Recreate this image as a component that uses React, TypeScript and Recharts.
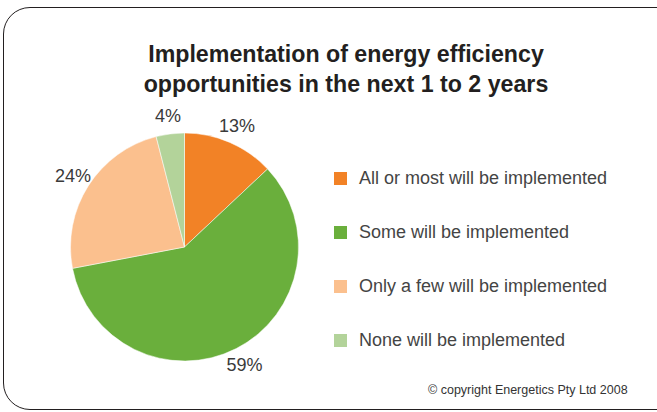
import { PieChart, Pie, Cell, Legend } from 'recharts';

const categories = [
  'All or most will be implemented',
  'Some will be implemented',
  'Only a few will be implemented',
  'None will be implemented',
];
const shares = [13, 59, 24, 4];
const colors = ['#F28226', '#6AAF3C', '#FBC08E', '#B3D39A'];

const data = categories.map((name, i) => ({ name, value: shares[i] }));

const RADIAN = Math.PI / 180;

function renderLabel(props: any) {
  const { cx, cy, midAngle, outerRadius, value } = props;
  const r = outerRadius + 18;
  const x = cx + r * Math.cos(-midAngle * RADIAN);
  const y = cy + r * Math.sin(-midAngle * RADIAN);
  return (
    <text x={x} y={y} textAnchor="middle" dominantBaseline="central" fill="#3a3a3a" fontSize={18} fontFamily="'Liberation Sans', Arial, sans-serif">
      {`${value}%`}
    </text>
  );
}

function renderLegend() {
  return (
    <div style={{ fontFamily: "'Liberation Sans', Arial, sans-serif" }}>
      {categories.map((c, i) => (
        <div key={c} style={{ display: 'flex', alignItems: 'center', height: 54.2 }}>
          <span style={{ width: 13, height: 13, background: colors[i], display: 'inline-block', marginRight: 12 }} />
          <span style={{ fontSize: 18, color: '#444' }}>{c}</span>
        </div>
      ))}
    </div>
  );
}

export default function App() {
  return (
    <div style={{ position: 'fixed', left: 0, top: 0, width: 657, height: 412, overflow: 'hidden', background: '#fff' }}>
      <div
        style={{
          position: 'absolute', left: 3, top: 7, width: 720, height: 403,
          border: '1.5px solid #231f20', borderRadius: 27, boxSizing: 'border-box',
        }}
      />
      <div
        style={{
          position: 'absolute', left: 96, top: 39, width: 500, textAlign: 'center',
          fontFamily: "'Liberation Sans', Arial, sans-serif", fontWeight: 'bold', fontSize: 23.2,
          lineHeight: '30px', color: '#231f20',
        }}
      >
        Implementation of energy efficiency
        <br />
        opportunities in the next 1 to 2 years
      </div>
      <div style={{ position: 'absolute', left: 0, top: 0 }}>
        <PieChart width={657} height={412} margin={{ top: 0, right: 0, bottom: 0, left: 0 }}>
          <Pie
            data={data}
            dataKey="value"
            nameKey="name"
            cx={184.5}
            cy={247}
            outerRadius={114}
            startAngle={90}
            endAngle={-270}
            stroke="#fff"
            strokeWidth={0.5}
            label={renderLabel}
            labelLine={false}
            isAnimationActive={false}
          >
            {data.map((d, i) => (
              <Cell key={d.name} fill={colors[i]} />
            ))}
          </Pie>
          <Legend
            layout="vertical"
            content={renderLegend}
            wrapperStyle={{ left: 334, top: 151, width: 300 }}
          />
        </PieChart>
      </div>
      <div
        style={{
          position: 'absolute', left: 428, top: 382, lineHeight: '16px',
          fontFamily: "'Liberation Sans', Arial, sans-serif", fontSize: 12.5, color: '#333',
        }}
      >
        © copyright Energetics Pty Ltd 2008
      </div>
    </div>
  );
}
